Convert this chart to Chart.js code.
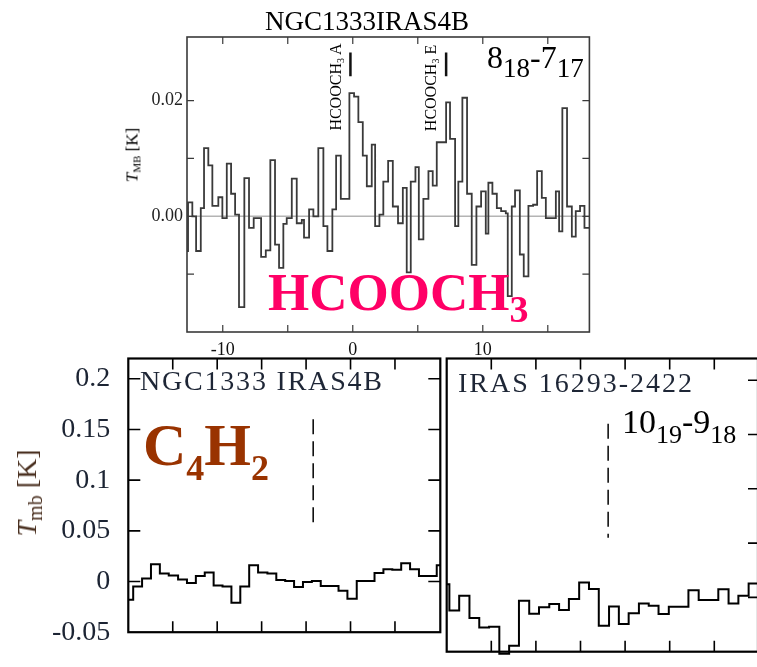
<!DOCTYPE html>
<html><head><meta charset="utf-8">
<script src="https://cdn.jsdelivr.net/npm/chart.js@4.4.1/dist/chart.umd.min.js"></script>
<style>
html,body{margin:0;padding:0;background:#fff;}
#wrap{position:relative;width:757px;height:667px;overflow:hidden;background:#fff;}
canvas{position:absolute;left:0;top:0;}
.t{position:absolute;white-space:nowrap;line-height:1;font-family:"Liberation Serif","Times New Roman",Tinos,"DejaVu Serif",serif;color:#000;}
.sub{position:relative;}
.rot{transform:translate(-50%,-50%) rotate(-90deg);}
</style></head><body>
<div id="wrap">
<canvas id="cTop" width="757" height="667"></canvas>
<canvas id="cL" width="757" height="667"></canvas>
<canvas id="cR" width="800" height="667"></canvas>

<div class="t" style="left:265px;top:8px;font-size:27px;">NGC1333IRAS4B</div>
<div class="t" style="left:487px;top:41px;font-size:32px;">8<span class="sub" style="font-size:27px;top:9px">18</span>-7<span class="sub" style="font-size:27px;top:9px">17</span></div>
<div class="t rot" style="left:336px;top:87px;font-size:16px;">HCOOCH<span class="sub" style="font-size:10px;top:3px">3</span> A</div>
<div class="t rot" style="left:431px;top:88px;font-size:16px;">HCOOCH<span class="sub" style="font-size:10px;top:3px">3</span> E</div>
<div class="t rot" style="left:132px;top:155px;font-size:17px;"><i>T</i><span class="sub" style="font-size:11px;top:3px">MB</span> [K]</div>
<div class="t" style="left:268px;top:266px;font-size:53px;font-weight:bold;color:#ff0066;">HCOOCH<span class="sub" style="font-size:38px;top:12px">3</span></div>

<div class="t" style="left:140px;top:367px;font-size:28px;letter-spacing:1.8px;color:#1e2636;">NGC1333 IRAS4B</div>
<div class="t" style="left:458px;top:369px;font-size:28px;letter-spacing:2px;color:#1e2636;">IRAS 16293-2422</div>
<div class="t" style="left:143px;top:415px;font-size:60px;font-weight:bold;color:#993300;">C<span class="sub" style="font-size:36px;top:15px">4</span>H<span class="sub" style="font-size:36px;top:15px">2</span></div>
<div class="t" style="left:622px;top:405px;font-size:34px;">10<span class="sub" style="font-size:26px;top:10px">19</span>-9<span class="sub" style="font-size:26px;top:10px">18</span></div>
<div class="t rot" style="left:27px;top:493px;font-size:28px;color:#4a3020;"><i>T</i><span class="sub" style="font-size:20px;top:6px">mb</span> [K]</div>
</div>
<script>
const SERIF = '"Liberation Serif", "Times New Roman", Tinos, "DejaVu Serif", serif';
// ---------- HCOOCH3 spectrum, NGC1333 IRAS4B (velocity channel edges, km/s) ----------
const hcoVel = [-12.85,-12.67,-12.34,-12.05,-11.69,-11.44,-11.11,-10.80,-10.34,-10.03,
  -9.69,-9.36,-9.05,-8.75,-8.34,-7.98,-7.62,-7.05,-6.69,-6.34,
  -5.98,-5.67,-5.34,-5.08,-4.69,-4.31,-3.92,-3.75,-3.36,-3.03,
  -2.65,-2.26,-1.95,-1.57,-1.28,-0.92,-0.26,0.10,0.43,0.77,
  1.08,1.46,1.72,2.05,2.35,2.72,3.08,3.48,3.85,4.15,
  4.46,4.82,5.08,5.43,5.82,6.15,6.46,7.18,7.48,7.87,
  8.12,8.43,8.79,9.15,9.51,9.87,10.23,10.43,10.74,11.08,
  11.41,11.77,11.92,12.23,12.48,12.85,13.15,13.51,13.87,14.18,
  14.54,14.85,15.62,15.87,16.12,16.48,16.85,17.15,17.48,17.82,18.25];
const hcoT = [-0.006,0.0024,0.0,-0.006,0.0014,0.0118,0.0088,0.0018,0.0033,-0.0003,
  0.0091,0.0039,0.0003,-0.0157,0.0066,-0.002,-0.0003,-0.007,-0.0059,0.0097,
  -0.0049,-0.0089,-0.0013,-0.0003,0.0065,-0.0012,-0.0006,-0.0037,0.0012,0.0,
  0.0118,-0.0017,-0.006,0.0012,0.0105,0.003,0.0213,0.0207,0.0163,0.0105,
  0.0052,0.0124,-0.0017,0.0003,0.006,0.0096,0.0017,-0.0012,0.0049,-0.0097,
  0.006,0.0085,-0.004,0.003,0.0078,0.0053,0.0128,0.0197,0.0134,-0.0017,
  0.006,0.0205,0.0039,-0.0084,0.0017,0.0043,-0.003,0.0058,0.0039,0.0014,
  0.0009,0.0005,-0.0138,0.0017,0.0045,-0.0066,-0.0104,0.0018,0.002,0.0078,
  0.0032,-0.0003,0.0043,-0.0026,0.0187,0.0017,-0.0035,0.0009,0.0018,-0.002];
const hcoLineVel = [-0.18, 7.18];          // HCOOCH3 A, E
const hcoMarkY = [0.0242, 0.0283];
const hcoXRange = [-12.75, 18.2];
const hcoYRange = [-0.02, 0.031];
const hcoXLabels = [-10, 0, 10];
const hcoXTickMarks = [-10, -5, 0, 5, 10, 15];
const hcoYLabels = [0, 0.02];
const hcoYTickMarks = [-0.01, 0, 0.01, 0.02];

// ---------- C4H2 10(19)-9(18) ----------
const c4NgcVel = [-0.05,0.11,0.31,0.51,0.71,0.91,1.12,1.32,1.52,1.72,1.92,2.12,2.32,2.52,2.72,2.92,3.13,3.33,3.53,3.73,3.93,
  4.13,4.33,4.53,4.73,4.93,5.14,5.34,5.54,5.74,5.94,6.14,6.34,6.54,6.74,6.94,7.1];
const c4NgcT = [-0.018,-0.005,0.003,0.017,0.008,0.006,0.002,-0.0015,0.0055,0.009,
  -0.004,-0.005,-0.021,-0.005,0.016,0.009,0.008,0.0015,0.0006,-0.0055,
  -0.0006,0.0006,-0.0045,-0.0045,-0.009,-0.017,0.0006,0.0006,0.0085,0.012,
  0.0115,0.018,0.012,0.0055,0.0055,0.016];
const c4IrasVel = [-0.1,0.06,0.28,0.51,0.73,0.95,1.18,1.40,1.62,1.85,2.07,2.30,2.52,2.74,2.97,3.19,3.41,
  3.64,3.86,4.08,4.31,4.53,4.75,4.98,5.20,5.42,5.65,5.87,6.09,6.32,6.54,6.77,7.0];
const c4IrasT = [0.012,-0.012,0.0015,-0.019,-0.0276,-0.027,-0.052,-0.0445,-0.003,-0.015,
  -0.009,-0.006,-0.0117,-0.0015,0.0138,0.0077,-0.026,-0.0083,-0.0245,-0.0147,
  -0.0055,-0.0077,-0.0153,-0.0086,-0.0086,0.0067,-0.0025,-0.0025,0.0074,-0.0055,
  0.0015,0.0129];
const c4NgcLineVel = 4.16;
const c4IrasLineVel = 3.62;
const c4LineY = [0.16, 0.055];
const c4NgcXRange = [0, 7.02];
const c4IrasXRange = [0, 6.98];
const c4YRange = [-0.05, 0.22];
const c4XTickMarks = [1, 2, 3, 4, 5, 6];
const c4YLabels = [-0.05, 0, 0.05, 0.1, 0.15, 0.2];
const c4YTickMarks = [0, 0.05, 0.1, 0.15, 0.2];

function steps(vel, val){
  const pts = val.map((v,i)=>({x:vel[i], y:v}));
  pts.push({x:vel[vel.length-1], y:val[val.length-1]});
  return pts;
}

const framePlugin = {
  id:'frame',
  afterDatasetsDraw(chart, args, o){
    const {ctx, chartArea:a} = chart;
    const x = chart.scales.x, y = chart.scales.y;
    ctx.save();
    ctx.strokeStyle = o.color; ctx.lineWidth = o.width;
    ctx.strokeRect(a.left, a.top, a.right-a.left, a.bottom-a.top);
    ctx.lineWidth = o.tickWidth;
    ctx.beginPath();
    (o.xTicks||[]).forEach(v=>{
      const p = x.getPixelForValue(v);
      if (o.top){ ctx.moveTo(p, a.top); ctx.lineTo(p, a.top+o.lenX); }
      if (o.bottom){ ctx.moveTo(p, a.bottom); ctx.lineTo(p, a.bottom-o.lenX); }
    });
    (o.yTicks||[]).forEach(v=>{
      const p = y.getPixelForValue(v);
      if (o.left){ ctx.moveTo(a.left, p); ctx.lineTo(a.left+o.lenY, p); }
      if (o.right){ ctx.moveTo(a.right, p); ctx.lineTo(a.right-o.lenY, p); }
    });
    ctx.stroke();
    ctx.restore();
  }
};

function panel(id, box, cfg){
  const cv = document.getElementById(id);
  const W = cv.width, H = cv.height;
  return new Chart(cv, {
    type:'line',
    data:{datasets: cfg.datasets},
    options:{
      responsive:false, animation:false, events:[],
      layout:{padding:{left:0, top:box.top, right:W-box.right, bottom:0}},
      elements:{point:{radius:0}, line:{tension:0, fill:false}},
      plugins:{legend:{display:false}, tooltip:{enabled:false}, frame: cfg.frame},
      scales:{
        x:{type:'linear', min:cfg.xRange[0], max:cfg.xRange[1],
           grid:{display:false, drawTicks:false}, border:{display:false},
           ticks:{display: !!cfg.xLabels, padding: cfg.xPad||0, color:'#111',
                  font:{family:SERIF, size: cfg.xFont||12},
                  callback: v => String(v)},
           afterBuildTicks: s => { if (cfg.xLabels) s.ticks = cfg.xLabels.map(v=>({value:v})); },
           afterFit: s => { s.height = H - box.bottom; }},
        y:{type:'linear', min:cfg.yRange[0], max:cfg.yRange[1],
           grid:{display:false, drawTicks:false}, border:{display:false},
           ticks:{display: !!cfg.yLabels, padding: cfg.yPad||0, color: cfg.yColor||'#111',
                  font:{family:SERIF, size: cfg.yFont||12},
                  callback: cfg.yFmt},
           afterBuildTicks: s => { if (cfg.yLabels) s.ticks = cfg.yLabels.map(v=>({value:v})); },
           afterFit: s => { s.width = box.left; }}
      }
    },
    plugins:[framePlugin]
  });
}

// Top panel
panel('cTop', {left:187, top:37, right:589.4, bottom:332}, {
  xRange: hcoXRange, yRange: hcoYRange,
  xLabels: hcoXLabels, xPad: 7, xFont: 18,
  yLabels: hcoYLabels, yPad: 4, yFont: 18, yColor:'#222',
  yFmt: v => Number(v).toFixed(2),
  datasets:[
    {data: steps(hcoVel, hcoT), stepped:'before', borderColor:'#3a3a3a', borderWidth:1.8, order:0, clip:0},
    {data: [{x:hcoXRange[0],y:0},{x:hcoXRange[1],y:0}], borderColor:'#b4b4b4', borderWidth:1.5, order:2},
    {data: [{x:hcoLineVel[0],y:hcoMarkY[0]},{x:hcoLineVel[0],y:hcoMarkY[1]}], borderColor:'#111', borderWidth:2.5, order:1},
    {data: [{x:hcoLineVel[1],y:hcoMarkY[0]},{x:hcoLineVel[1],y:hcoMarkY[1]}], borderColor:'#111', borderWidth:2.5, order:1}
  ],
  frame:{color:'#3a3a3a', width:1.6, tickWidth:1.2, xTicks:hcoXTickMarks, yTicks:hcoYTickMarks,
         top:true, bottom:true, left:true, right:true, lenX:7, lenY:7}
});

// Bottom-left panel
panel('cL', {left:128.3, top:358.5, right:440.3, bottom:651.7}, {
  xRange: c4NgcXRange, yRange: c4YRange,
  yLabels: c4YLabels, yPad: 18, yFont: 28, yColor:'#1c2433',
  yFmt: v => String(+Number(v).toFixed(2)),
  datasets:[
    {data: steps(c4NgcVel, c4NgcT), stepped:'before', borderColor:'#000', borderWidth:2, order:0, clip:0},
    {data: [{x:c4NgcLineVel,y:c4LineY[0]},{x:c4NgcLineVel,y:c4LineY[1]}], borderColor:'#111', borderWidth:1.6, borderDash:[15,7], order:1}
  ],
  frame:{color:'#000', width:2.2, tickWidth:1.6, xTicks:c4XTickMarks, yTicks:c4YTickMarks,
         top:true, bottom:true, left:true, right:true, lenX:11, lenY:12}
});

// Bottom-right panel
panel('cR', {left:446.7, top:358.5, right:758, bottom:651.7}, {
  xRange: c4IrasXRange, yRange: c4YRange,
  datasets:[
    {data: steps(c4IrasVel, c4IrasT), stepped:'before', borderColor:'#000', borderWidth:2, order:0, clip:{left:0,right:0,top:0,bottom:4}},
    {data: [{x:c4IrasLineVel,y:c4LineY[0]},{x:c4IrasLineVel,y:c4LineY[1]}], borderColor:'#111', borderWidth:1.6, borderDash:[15,7], order:1}
  ],
  frame:{color:'#000', width:2.2, tickWidth:1.6, xTicks:c4XTickMarks, yTicks:c4YTickMarks,
         top:true, bottom:true, left:false, right:true, lenX:11, lenY:10}
});
</script>
</body></html>
